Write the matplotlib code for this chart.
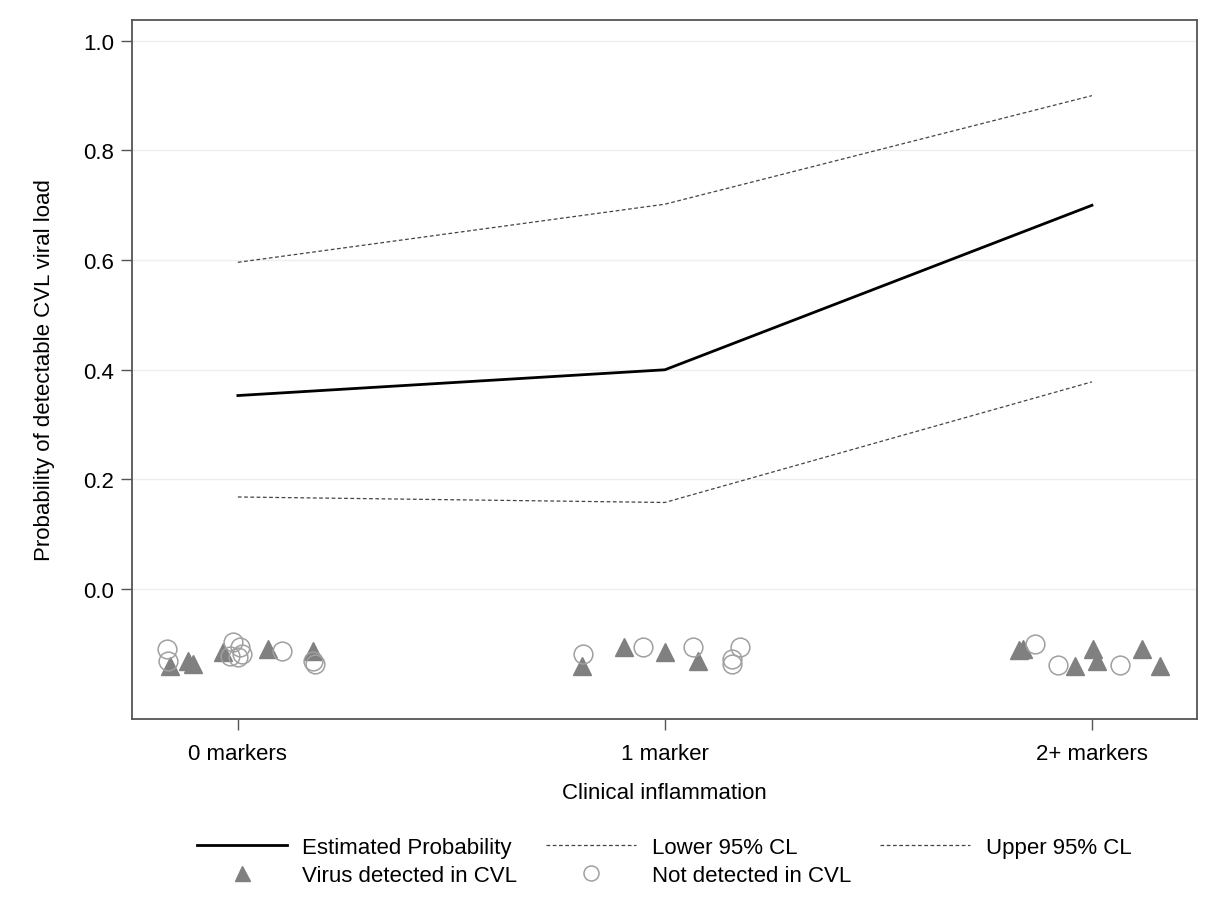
import numpy as np
import matplotlib
matplotlib.use("Agg")
import matplotlib.pyplot as plt

plt.rcParams['font.family'] = ['Liberation Sans', 'DejaVu Sans']

# categories and fitted values
groups = ["0 markers", "1 marker", "2+ markers"]
est_prob = [0.353, 0.400, 0.700]
lower_cl = [0.168, 0.158, 0.378]
upper_cl = [0.596, 0.702, 0.900]

# jittered observations (group index, offset, y)
det_grp = [0, 0, 0, 0, 0, 0, 1, 1, 1, 1, 2, 2, 2, 2, 2, 2, 2]
det_dx = [-0.159, -0.117, -0.105, -0.035, 0.070, 0.176,
          -0.194, -0.096, 0.000, 0.077,
          -0.171, -0.162, -0.040, 0.002, 0.012, 0.117, 0.159]
det_y = [-0.141, -0.131, -0.137, -0.115, -0.109, -0.113,
         -0.141, -0.106, -0.115, -0.131,
         -0.111, -0.109, -0.141, -0.109, -0.131, -0.109, -0.141]

nd_grp = [0, 0, 0, 0, 0, 0, 0, 0, 0, 0, 1, 1, 1, 1, 1, 1, 2, 2, 2]
nd_dx = [-0.166, -0.164, -0.012, 0.005, -0.019, 0.000, 0.009, 0.103, 0.176, 0.180,
         -0.192, -0.052, 0.066, 0.176, 0.157, 0.157,
         -0.133, -0.080, 0.066]
nd_y = [-0.109, -0.131, -0.097, -0.106, -0.122, -0.124, -0.119, -0.113, -0.131, -0.137,
        -0.119, -0.106, -0.106, -0.106, -0.128, -0.137,
        -0.100, -0.139, -0.139]

fs = 16

fig = plt.figure(figsize=(12.14, 9.04), dpi=100)
ax = fig.add_axes([0.1087, 0.2035, 0.8773, 0.7733])

xs = np.arange(len(groups))
ax.plot(xs, est_prob, color='black', lw=2.0, label='Estimated Probability', zorder=3)
ax.plot(xs, lower_cl, color='#444444', lw=0.9, ls=(0, (3, 2)), label='Lower 95% CL', zorder=3)
ax.plot(xs, upper_cl, color='#444444', lw=0.9, ls=(0, (3, 2)), label='Upper 95% CL', zorder=3)

dx = np.array(det_grp) + np.array(det_dx)
ax.plot(dx, det_y, ls='none', marker='^', ms=13.5, color='#808080',
        mec='#808080', label='Virus detected in CVL', zorder=4)
nx = np.array(nd_grp) + np.array(nd_dx)
ax.plot(nx, nd_y, ls='none', marker='o', ms=13.5, mfc='none', mec='#a0a0a0',
        mew=1.1, label='Not detected in CVL', zorder=4)

ax.set_xlim(-0.248, 2.246)
ax.set_ylim(-0.237, 1.038)
ax.set_xticks(xs)
ax.set_xticklabels(groups)
ax.set_yticks([0.0, 0.2, 0.4, 0.6, 0.8, 1.0])
ax.set_yticklabels(['0.0', '0.2', '0.4', '0.6', '0.8', '1.0'])
ax.yaxis.grid(True, color='#eeeeee', lw=1.0)
ax.set_axisbelow(True)
ax.tick_params(length=8, width=1.0, color='#555555', labelsize=fs)
ax.tick_params(axis='x', pad=9)
ax.tick_params(axis='y', pad=5)
for sp in ax.spines.values():
    sp.set_color('#555555')
    sp.set_linewidth(1.3)

ax.set_xlabel('Clinical inflammation', fontsize=fs, labelpad=13)
ax.set_ylabel('Probability of detectable CVL viral load', fontsize=fs, labelpad=20)

h, l = ax.get_legend_handles_labels()
order = [0, 3, 1, 4, 2]
fig.legend([h[i] for i in order], [l[i] for i in order], ncol=3,
           loc='upper center', bbox_to_anchor=(0.547, 0.095),
           frameon=False, fontsize=fs, handlelength=4.05, handletextpad=0.7,
           columnspacing=1.3, labelspacing=0.3, markerscale=0.8)

fig.savefig('out.png', dpi=100)
